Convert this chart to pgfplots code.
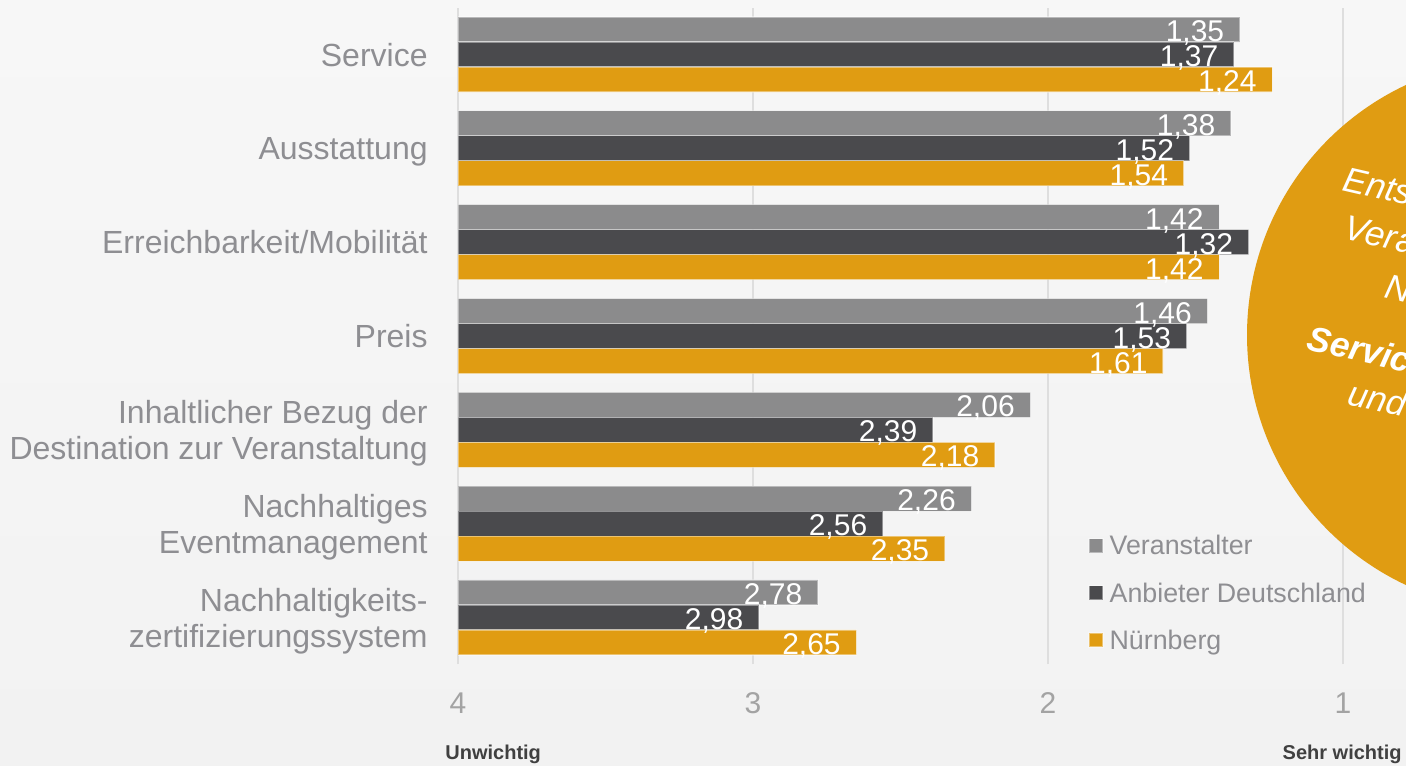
\documentclass[border=0pt]{standalone}
\usepackage{fontspec}
\setmainfont{Liberation Sans}
\usepackage{pgfplots}
\usepackage{pgfplotstable}
\pgfplotsset{compat=1.18}
\definecolor{cgray}{HTML}{8B8B8C}
\definecolor{cdark}{HTML}{4A4A4D}
\definecolor{corange}{HTML}{E09C12}
\definecolor{clabel}{HTML}{8E8E92}
\definecolor{ctick}{HTML}{A3A3A3}
\definecolor{cgrid}{HTML}{DEDEDE}
\definecolor{bgtop}{HTML}{F7F7F7}
\definecolor{bgbot}{HTML}{F2F2F2}
\definecolor{cnote}{HTML}{404040}

\pgfplotstableread{
pos ver anb nue
6 1.35 1.37 1.24
5 1.38 1.52 1.54
4 1.42 1.32 1.42
3 1.46 1.53 1.61
2 2.06 2.39 2.18
1 2.26 2.56 2.35
0 2.78 2.98 2.65
}\datatable

\begin{document}
\begin{tikzpicture}
\path[use as bounding box] (0pt,0pt) rectangle (703pt,-382.5pt);
\clip (0pt,0pt) rectangle (703pt,-382.5pt);
\shade[top color=bgtop, bottom color=bgbot] (0pt,0pt) rectangle (703pt,-382.5pt);
\begin{axis}[
  at={(229pt,-332.2pt)}, anchor=south west,
  width=442.5pt, height=328.4pt, scale only axis,
  xbar, bar width=12.5pt,
  xmin=0, xmax=3, ymin=-0.5, ymax=6.5,
  axis line style={draw=none},
  major tick length=0pt,
  xmajorgrids, grid style={cgrid, line width=0.8pt},
  xtick={0,1,2,3}, xticklabels={4,3,2,1},
  xticklabel style={anchor=base, inner sep=0pt, yshift=-24.3pt, text=ctick, font=\fontsize{15}{15}\selectfont},
  ytick={0,...,6},
  yticklabels={{Nachhaltigkeits-\\zertifizierungssystem},{Nachhaltiges\\Eventmanagement},{Inhaltlicher Bezug der\\Destination zur Veranstaltung},Preis,Erreichbarkeit/Mobilität,Ausstattung,Service},
  yticklabel style={anchor=east, align=right, inner sep=0pt, text depth=0pt, xshift=-15pt, text=clabel, font=\fontsize{16}{18}\selectfont},
  point meta=explicit,
  nodes near coords={\pgfmathprintnumber[fixed,fixed zerofill,precision=2,use comma,assume math mode=true]{\pgfplotspointmeta}},
  every node near coord/.append style={anchor=base east, inner sep=0pt, xshift=-7.5pt, yshift=-6pt, text=white, font=\fontsize{15}{15}\selectfont},
  legend image code/.code={\fill[#1] (0pt,-2.25pt) rectangle (7pt,4.75pt);},
  legend cell align=left,
  legend style={draw=none, fill=none, at={(axis description cs:0.7119,0.1964)}, anchor=north west,
    inner sep=0pt, row sep=11.4pt, font=\fontsize{13.4}{13.4}\selectfont, text=clabel,
    nodes={inner sep=0pt, text height=9.5pt, text depth=2.7pt},
    /tikz/every odd column/.append style={column sep=3pt}},
]
\addplot[fill=cgray, draw=white, draw opacity=0.4, line width=0.6pt, bar shift=12.5pt]
  table[x expr=4-\thisrow{ver}, y=pos, meta=ver] {\datatable};
\addlegendentry{Veranstalter}
\addplot[fill=cdark, draw=white, draw opacity=0.4, line width=0.6pt, bar shift=0pt]
  table[x expr=4-\thisrow{anb}, y=pos, meta=anb] {\datatable};
\addlegendentry{Anbieter Deutschland}
\addplot[fill=corange, draw=white, draw opacity=0.4, line width=0.6pt, bar shift=-12.5pt]
  table[x expr=4-\thisrow{nue}, y=pos, meta=nue] {\datatable};
\addlegendentry{Nürnberg}
\end{axis}
\fill[corange] (761.5pt,-167.5pt) circle (138pt);
\begin{scope}[font=\fontsize{17.5}{17.5}\selectfont\itshape]
\node[anchor=base west, rotate=-13, inner sep=0pt, text=white] at (670.5pt,-95pt) {Entscheidend für};
\node[anchor=base west, rotate=-13, inner sep=0pt, text=white] at (671pt,-119pt) {Veranstalter in};
\node[anchor=base west, rotate=-13, inner sep=0pt, text=white] at (691.5pt,-148.5pt) {Nürnberg:};
\node[anchor=base west, rotate=-13, inner sep=0pt, text=white, font=\fontsize{17.5}{17.5}\selectfont\bfseries\itshape] at (652.5pt,-174.5pt) {Service, Preis};
\node[anchor=base west, rotate=-13, inner sep=0pt, text=white] at (673pt,-202pt) {und Ausstattung};
\end{scope}
\node[anchor=base west, inner sep=0pt, text=cnote, font=\fontsize{10}{10}\selectfont\bfseries] at (222.5pt,-379.5pt) {Unwichtig};
\node[anchor=base east, inner sep=0pt, text=cnote, font=\fontsize{10}{10}\selectfont\bfseries] at (701pt,-379.5pt) {Sehr wichtig};
\end{tikzpicture}
\end{document}
